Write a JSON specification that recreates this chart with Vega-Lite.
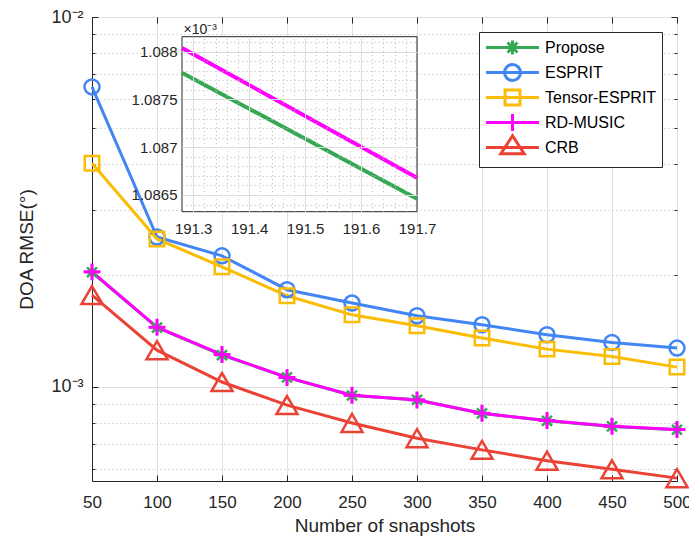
{
  "$schema": "https://vega.github.io/schema/vega-lite/v6.json",
  "width": 585,
  "height": 464,
  "autosize": {"type": "none"},
  "padding": {"left": 92, "top": 17, "right": 12, "bottom": 58},
  "background": "white",
  "config": {
    "font": "Liberation Sans",
    "view": {"stroke": "#262626", "strokeWidth": 1},
    "axis": {
      "labelFont": "Liberation Sans",
      "titleFont": "Liberation Sans",
      "labelColor": "#262626",
      "titleColor": "#262626",
      "titleFontWeight": "normal",
      "domainColor": "#262626",
      "tickColor": "#262626"
    }
  },
  "datasets": {
    "main": [
      {"method": "Propose", "snapshots": 50, "rmse": 0.00204},
      {"method": "Propose", "snapshots": 100, "rmse": 0.001446},
      {"method": "Propose", "snapshots": 150, "rmse": 0.0012175},
      {"method": "Propose", "snapshots": 200, "rmse": 0.0010604},
      {"method": "Propose", "snapshots": 250, "rmse": 0.000947},
      {"method": "Propose", "snapshots": 300, "rmse": 0.000922},
      {"method": "Propose", "snapshots": 350, "rmse": 0.000847},
      {"method": "Propose", "snapshots": 400, "rmse": 0.000809},
      {"method": "Propose", "snapshots": 450, "rmse": 0.000781},
      {"method": "Propose", "snapshots": 500, "rmse": 0.000765},
      {"method": "ESPRIT", "snapshots": 50, "rmse": 0.00647},
      {"method": "ESPRIT", "snapshots": 100, "rmse": 0.00254},
      {"method": "ESPRIT", "snapshots": 150, "rmse": 0.00226},
      {"method": "ESPRIT", "snapshots": 200, "rmse": 0.00183},
      {"method": "ESPRIT", "snapshots": 250, "rmse": 0.001684},
      {"method": "ESPRIT", "snapshots": 300, "rmse": 0.001556},
      {"method": "ESPRIT", "snapshots": 350, "rmse": 0.001471},
      {"method": "ESPRIT", "snapshots": 400, "rmse": 0.001382},
      {"method": "ESPRIT", "snapshots": 450, "rmse": 0.001318},
      {"method": "ESPRIT", "snapshots": 500, "rmse": 0.001272},
      {"method": "Tensor-ESPRIT", "snapshots": 50, "rmse": 0.00402},
      {"method": "Tensor-ESPRIT", "snapshots": 100, "rmse": 0.00251},
      {"method": "Tensor-ESPRIT", "snapshots": 150, "rmse": 0.00211},
      {"method": "Tensor-ESPRIT", "snapshots": 200, "rmse": 0.001762},
      {"method": "Tensor-ESPRIT", "snapshots": 250, "rmse": 0.001565},
      {"method": "Tensor-ESPRIT", "snapshots": 300, "rmse": 0.001462},
      {"method": "Tensor-ESPRIT", "snapshots": 350, "rmse": 0.001354},
      {"method": "Tensor-ESPRIT", "snapshots": 400, "rmse": 0.001264},
      {"method": "Tensor-ESPRIT", "snapshots": 450, "rmse": 0.001208},
      {"method": "Tensor-ESPRIT", "snapshots": 500, "rmse": 0.00113},
      {"method": "RD-MUSIC", "snapshots": 50, "rmse": 0.002045},
      {"method": "RD-MUSIC", "snapshots": 100, "rmse": 0.001449},
      {"method": "RD-MUSIC", "snapshots": 150, "rmse": 0.0012217},
      {"method": "RD-MUSIC", "snapshots": 200, "rmse": 0.0010598},
      {"method": "RD-MUSIC", "snapshots": 250, "rmse": 0.000948},
      {"method": "RD-MUSIC", "snapshots": 300, "rmse": 0.000921},
      {"method": "RD-MUSIC", "snapshots": 350, "rmse": 0.000848},
      {"method": "RD-MUSIC", "snapshots": 400, "rmse": 0.00081},
      {"method": "RD-MUSIC", "snapshots": 450, "rmse": 0.000782},
      {"method": "RD-MUSIC", "snapshots": 500, "rmse": 0.000766},
      {"method": "CRB", "snapshots": 50, "rmse": 0.00177},
      {"method": "CRB", "snapshots": 100, "rmse": 0.001256},
      {"method": "CRB", "snapshots": 150, "rmse": 0.00103},
      {"method": "CRB", "snapshots": 200, "rmse": 0.000892},
      {"method": "CRB", "snapshots": 250, "rmse": 0.000798},
      {"method": "CRB", "snapshots": 300, "rmse": 0.000726},
      {"method": "CRB", "snapshots": 350, "rmse": 0.000675},
      {"method": "CRB", "snapshots": 400, "rmse": 0.000631},
      {"method": "CRB", "snapshots": 450, "rmse": 0.000598},
      {"method": "CRB", "snapshots": 500, "rmse": 0.000566}
    ],
    "inset": [
      {"method": "Propose", "snapshots": 191.28, "rmse": 0.00108778},
      {"method": "Propose", "snapshots": 191.7, "rmse": 0.00108646},
      {"method": "RD-MUSIC", "snapshots": 191.28, "rmse": 0.00108804},
      {"method": "RD-MUSIC", "snapshots": 191.7, "rmse": 0.00108668}
    ]
  },
  "layer": [
    {
      "data": {"name": "main"},
      "layer": [
        {
          "mark": {"type": "line", "strokeWidth": 3},
          "encoding": {
            "x": {
              "field": "snapshots", "type": "quantitative",
              "scale": {"domain": [50, 500], "nice": false, "zero": false},
              "axis": {
                "orient": "bottom",
                "values": [50, 100, 150, 200, 250, 300, 350, 400, 450, 500],
                "grid": true, "gridColor": "#e0e0e0", "gridWidth": 1,
                "domain": true, "ticks": true, "tickSize": -6,
                "labelFlush": false, "labelOverlap": false, "labelBound": false,
                "labelFontSize": 17, "labelBaseline": "alphabetic", "labelPadding": 32,
                "title": "Number of snapshots", "titleFontSize": 19,
                "titleY": 50.7, "titleBaseline": "alphabetic"
              }
            },
            "y": {
              "field": "rmse", "type": "quantitative",
              "scale": {"type": "log", "domain": [0.000556, 0.01], "nice": false},
              "axis": {
                "orient": "left",
                "values": [0.0006, 0.0007, 0.0008, 0.0009, 0.001, 0.002, 0.003, 0.004, 0.005, 0.006, 0.007, 0.008, 0.009, 0.01],
                "grid": true,
                "gridColor": {"condition": {"test": "abs(log(datum.value)/LN10 - round(log(datum.value)/LN10)) < 0.001", "value": "#e0e0e0"}, "value": "#bdbdbd"},
                "gridDash": {"condition": {"test": "abs(log(datum.value)/LN10 - round(log(datum.value)/LN10)) < 0.001", "value": []}, "value": [1, 3]},
                "domain": true, "ticks": true,
                "tickSize": {"condition": {"test": "abs(log(datum.value)/LN10 - round(log(datum.value)/LN10)) < 0.001", "value": -6}, "value": -3},
                "labelExpr": "abs(log(datum.value)/LN10 + 3) < 0.001 ? '10⁻³' : (abs(log(datum.value)/LN10 + 2) < 0.001 ? '10⁻²' : '')",
                "labelFlush": false, "labelOverlap": false, "labelBound": false,
                "labelFontSize": 18, "labelPadding": 15,
                "title": "DOA RMSE(°)", "titleFontSize": 19,
                "titleX": -60, "titleY": 232, "titleBaseline": "alphabetic"
              }
            },
            "color": {
              "field": "method", "type": "nominal",
              "scale": {
                "domain": ["Propose", "ESPRIT", "Tensor-ESPRIT", "RD-MUSIC", "CRB"],
                "range": ["#34a853", "#4285f4", "#fbbc05", "#ff00ff", "#ea4335"]
              }
            }
          }
        },
        {
          "transform": [{"filter": "datum.method === 'Propose'"}],
          "mark": {"type": "point", "shape": "M-1,0H1M0,-1V1M-0.71,-0.71L0.71,0.71M-0.71,0.71L0.71,-0.71", "filled": false, "strokeWidth": 2.5, "size": 196, "opacity": 1},
          "encoding": {
            "x": {
              "field": "snapshots", "type": "quantitative",
              "axis": {
                "orient": "top", "values": [50, 100, 150, 200, 250, 300, 350, 400, 450, 500],
                "labels": false, "grid": false, "domain": false, "ticks": true, "tickSize": -6, "title": null
              }
            },
            "y": {
              "field": "rmse", "type": "quantitative",
              "axis": {
                "orient": "right",
                "values": [0.0006, 0.0007, 0.0008, 0.0009, 0.001, 0.002, 0.003, 0.004, 0.005, 0.006, 0.007, 0.008, 0.009, 0.01],
                "labels": false, "grid": false, "domain": false, "ticks": true,
                "tickSize": {"condition": {"test": "abs(log(datum.value)/LN10 - round(log(datum.value)/LN10)) < 0.001", "value": -6}, "value": -3},
                "title": null
              }
            },
            "color": {"field": "method", "type": "nominal"}
          }
        },
        {
          "transform": [{"filter": "datum.method === 'ESPRIT'"}],
          "mark": {"type": "point", "shape": "circle", "filled": false, "strokeWidth": 2.5, "size": 225, "opacity": 1},
          "encoding": {
            "x": {"field": "snapshots", "type": "quantitative", "axis": null},
            "y": {"field": "rmse", "type": "quantitative", "axis": null},
            "color": {"field": "method", "type": "nominal"}
          }
        },
        {
          "transform": [{"filter": "datum.method === 'Tensor-ESPRIT'"}],
          "mark": {"type": "point", "shape": "square", "filled": false, "strokeWidth": 2.5, "size": 210, "opacity": 1},
          "encoding": {
            "x": {"field": "snapshots", "type": "quantitative", "axis": null},
            "y": {"field": "rmse", "type": "quantitative", "axis": null},
            "color": {"field": "method", "type": "nominal"}
          }
        },
        {
          "transform": [{"filter": "datum.method === 'RD-MUSIC'"}],
          "mark": {"type": "point", "shape": "M-1.13,0H1.13M0,-1.13V1.13", "filled": false, "strokeWidth": 3, "size": 225, "opacity": 1},
          "encoding": {
            "x": {"field": "snapshots", "type": "quantitative", "axis": null},
            "y": {"field": "rmse", "type": "quantitative", "axis": null},
            "color": {"field": "method", "type": "nominal"}
          }
        },
        {
          "transform": [{"filter": "datum.method === 'CRB'"}],
          "mark": {"type": "point", "shape": "M0,-1.2L1.4,1.2H-1.4Z", "filled": false, "strokeWidth": 2.5, "size": 225, "opacity": 1},
          "encoding": {
            "x": {"field": "snapshots", "type": "quantitative", "axis": null},
            "y": {"field": "rmse", "type": "quantitative", "axis": null},
            "color": {"field": "method", "type": "nominal"}
          }
        },
        {
          "transform": [{"filter": "false"}],
          "mark": {"type": "point", "filled": false, "strokeWidth": 3, "size": 324, "opacity": 1},
          "encoding": {
            "color": {
              "field": "method", "type": "nominal",
              "legend": {
                "orient": "top-right", "offset": 15, "title": null,
                "fillColor": "white", "strokeColor": "#262626", "padding": 5,
                "labelFont": "Liberation Sans", "labelFontSize": 16, "labelColor": "#000000",
                "symbolSize": 324, "symbolStrokeWidth": 3, "symbolFillColor": "transparent",
                "labelOffset": 40, "rowPadding": -13
              }
            },
            "shape": {
              "field": "method", "type": "nominal",
              "scale": {
                "domain": ["Propose", "ESPRIT", "Tensor-ESPRIT", "RD-MUSIC", "CRB"],
                "range": [
                  "M-0.94,0H4.94M2,-0.78V0.78M1.22,0H2.78M1.45,-0.55L2.55,0.55M1.45,0.55L2.55,-0.55M2,-1.3L2,-1.3M2,0.9L2,0.9",
                  "M-0.94,0H4.94M1.11,0A0.89,0.89 0 1,0 2.89,0A0.89,0.89 0 1,0 1.11,0M2,-1.3L2,-1.3M2,0.9L2,0.9",
                  "M-0.94,0H4.94M1.17,-0.83H2.83V0.83H1.17ZM2,-1.3L2,-1.3M2,0.9L2,0.9",
                  "M-0.94,0H4.94M2,-0.94V0.94M2,-1.3L2,-1.3M2,0.9L2,0.9",
                  "M-0.94,0H4.94M2,-1.3L0.7,0.7H3.3ZM2,-1.3L2,-1.3M2,0.9L2,0.9"
                ]
              },
              "legend": {
                "orient": "top-right", "offset": 15, "title": null,
                "fillColor": "white", "strokeColor": "#262626", "padding": 5,
                "labelFont": "Liberation Sans", "labelFontSize": 16, "labelColor": "#000000",
                "symbolSize": 324, "symbolStrokeWidth": 3, "symbolFillColor": "transparent",
                "labelOffset": 40, "rowPadding": -13
              }
            }
          }
        }
      ],
      "resolve": {"axis": {"x": "independent", "y": "independent"}}
    },
    {
      "layer": [
        {
          "data": {"values": [{}]},
          "mark": {"type": "rect", "fill": "white", "stroke": "#262626", "strokeWidth": 1},
          "encoding": {
            "x": {
              "datum": 191.28, "type": "quantitative",
              "scale": {"domain": [191.28, 191.7], "range": [90, 325], "nice": false, "zero": false},
              "axis": {
                "orient": "bottom", "offset": -269.3, "zindex": 1,
                "values": [191.3, 191.4, 191.5, 191.6, 191.7],
                "labelExpr": "format(datum.value, '.1f')",
                "labelOverlap": false, "labelBound": false, "labelFlush": false,
                "grid": false, "domain": false, "ticks": false,
                "labelFontSize": 15, "labelBaseline": "alphabetic", "labelPadding": 21.5,
                "title": null
              }
            },
            "x2": {"datum": 191.7},
            "y": {
              "datum": 0.001086325, "type": "quantitative",
              "scale": {"domain": [0.001086325, 0.001088157], "range": [194.7, 19.7], "nice": false, "zero": false},
              "axis": {
                "orient": "left", "offset": -90, "zindex": 1,
                "values": [0.0010865, 0.001087, 0.0010875, 0.001088],
                "grid": true, "gridColor": "#dcdcdc",
                "labelExpr": "format(datum.value*1000, '.4~f')",
                "labelOverlap": false, "labelBound": false, "labelFlush": false,
                "domain": false, "ticks": false,
                "labelFontSize": 15, "labelPadding": 5,
                "title": null
              }
            },
            "y2": {"datum": 0.001088157}
          }
        },
        {
          "data": {"name": "inset"},
          "mark": {"type": "line", "strokeWidth": 4},
          "encoding": {
            "x": {
              "field": "snapshots", "type": "quantitative",
              "axis": {
                "orient": "top", "zindex": 1,
                "values": [191.3, 191.32, 191.34, 191.36, 191.38, 191.4, 191.42, 191.44, 191.46, 191.48, 191.5, 191.52, 191.54, 191.56, 191.58, 191.6, 191.62, 191.64, 191.66, 191.68],
                "grid": true,
                "gridColor": {"condition": {"test": "abs(datum.value*10 - round(datum.value*10)) < 0.001", "value": "#dcdcdc"}, "value": "#bdbdbd"},
                "gridDash": {"condition": {"test": "abs(datum.value*10 - round(datum.value*10)) < 0.001", "value": []}, "value": [1, 3]},
                "labels": false, "domain": false, "ticks": false,
                "title": "×10⁻³", "titleFontSize": 14, "titleFontWeight": "normal",
                "titleX": 91, "titleY": 16, "titleAlign": "left", "titleBaseline": "alphabetic", "titleAngle": 0
              }
            },
            "y": {
              "field": "rmse", "type": "quantitative",
              "axis": {
                "orient": "left", "offset": -90, "zindex": 1,
                "values": [0.0010864, 0.0010866, 0.0010867, 0.0010868, 0.0010869, 0.0010871, 0.0010872, 0.0010873, 0.0010874, 0.0010876, 0.0010877, 0.0010878, 0.0010879, 0.0010881],
                "grid": true, "gridColor": "#bdbdbd", "gridDash": [1, 3],
                "labels": false, "domain": false, "ticks": false,
                "title": null
              }
            },
            "color": {"field": "method", "type": "nominal"}
          }
        }
      ],
      "resolve": {"axis": {"x": "independent", "y": "independent"}}
    }
  ],
  "resolve": {"scale": {"x": "independent", "y": "independent"}}
}
